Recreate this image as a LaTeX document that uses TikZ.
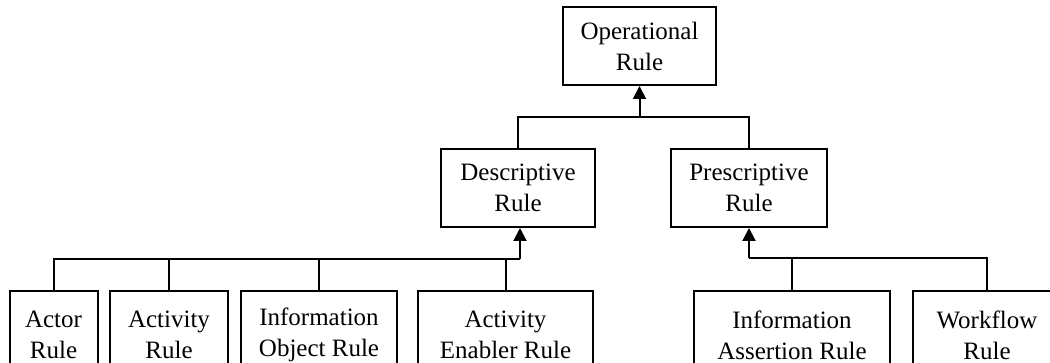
\documentclass[tikz,border=0pt]{standalone}
\usepackage{fontspec}
\setmainfont{Liberation Serif}
\usetikzlibrary{arrows.meta}
\begin{document}
\begin{tikzpicture}[x=0.5pt,y=-0.5pt,
  rulebox/.style={draw,line width=1pt,align=center,inner sep=0pt,
    font=\fontsize{12.5}{15.5}\selectfont},
  link/.style={line width=1pt},
  genarrow/.style={link,-{Triangle[width=6.5pt,length=6.5pt]}}]
\useasboundingbox (0,0) rectangle (1050,363);
\clip (0,0) rectangle (1050,363);

% top level
\node[rulebox,minimum width=153*0.5pt,minimum height=78*0.5pt] (op) at (639.5,46) {Operational\\Rule};

% second level
\node[rulebox,minimum width=154*0.5pt,minimum height=78*0.5pt] (desc) at (518,188) {Descriptive\\Rule};
\node[rulebox,minimum width=156*0.5pt,minimum height=78*0.5pt] (pres) at (749,188) {Prescriptive\\Rule};

% leaf rules (boxes run past the lower edge)
\node[rulebox,minimum width=88*0.5pt,minimum height=88*0.5pt] (actor) at (53.5,335) {Actor\\Rule};
\node[rulebox,minimum width=118*0.5pt,minimum height=88*0.5pt] (activity) at (169,335) {Activity\\Rule};
\node[rulebox,minimum width=156*0.5pt,minimum height=88*0.5pt] (infoobj) at (319,335) {Information\\Object Rule};
\node[rulebox,minimum width=175*0.5pt,minimum height=88*0.5pt] (enabler) at (505.5,335) {Activity\\Enabler Rule};
\node[rulebox,minimum width=196*0.5pt,minimum height=88*0.5pt] (assertion) at (792,335) {Information\\Assertion Rule};
\node[rulebox,minimum width=148*0.5pt,minimum height=88*0.5pt] (workflow) at (987,335) {Workflow\\Rule};

% junction points of the generalisation trees
\coordinate (jop) at (639.5,117);
\coordinate (jdesc) at (520,259);
\coordinate (jpres) at (749,258);

% Operational <- Descriptive / Prescriptive
\draw[link] (desc.north) |- (jop) -| (pres.north);
\draw[genarrow] (jop) -- (op.south);

% Descriptive <- four leaf rules
\draw[link] (actor.north) |- (jdesc);
\draw[link] (activity.north) -- (activity.north |- jdesc);
\draw[link] (infoobj.north) -- (infoobj.north |- jdesc);
\draw[link] (enabler.north) -- (enabler.north |- jdesc);
\draw[genarrow] (jdesc) -- (jdesc |- desc.south);

% Prescriptive <- two leaf rules
\draw[link] (workflow.north) |- (jpres);
\draw[link] (assertion.north) -- (assertion.north |- jpres);
\draw[genarrow] (jpres) -- (pres.south);
\end{tikzpicture}
\end{document}
